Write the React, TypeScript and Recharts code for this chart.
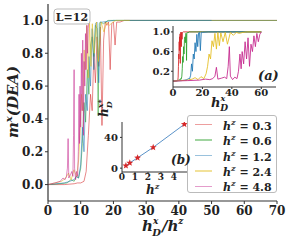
import React from "react";
import { LineChart, Line, XAxis, YAxis } from "recharts";

// h^z values, one series each
const HZ = [0.3, 0.6, 1.2, 2.4, 4.8];
const COLORS = ["#d62728", "#2ca02c", "#1f77b4", "#e3bc1c", "#c4248c"];

// h_D^x and m^x(DEA) (a)
const hd03 = [0, 1.5, 2.4, 2.7, 3.0, 3.3, 3.5, 3.7, 3.9, 4.05, 4.2, 4.35, 4.5, 4.65, 4.8, 4.95, 5.1, 5.25, 5.4, 5.55, 5.7, 5.85, 6.0, 6.15, 6.3, 6.6, 7, 10, 30, 60];
const m03 = [0, 0, 0.005, 0.01, 0.01, 0.02, 0.08, 0.3, 0.55, 0.45, 0.8, 0.62, 0.9, 0.72, 0.96, 0.36, 0.88, 0.99, 0.97, 0.99, 0.7, 0.98, 0.99, 0.85, 0.99, 0.99, 1, 1, 1, 1];

const hd06 = [0, 2, 3.5, 4.2, 4.8, 5.2, 5.6, 6.0, 6.3, 6.6, 6.9, 7.2, 7.5, 7.8, 8.1, 8.4, 8.7, 9.0, 9.2, 9.4, 9.6, 10.2, 11, 20, 60];
const m06 = [0, 0.005, 0.01, 0.03, 0.02, 0.05, 0.04, 0.1, 0.25, 0.5, 0.38, 0.7, 0.55, 0.85, 0.9, 0.78, 0.97, 0.95, 0.42, 0.98, 0.99, 0.98, 1, 1, 1];

const hd12 = [0, 3, 6, 8, 9.5, 10.5, 11.2, 12, 12.6, 13.2, 13.8, 14.4, 15.0, 15.6, 16.2, 16.8, 17.4, 18.0, 18.6, 19.2, 20, 24, 60];
const m12 = [0, 0.005, 0.01, 0.02, 0.03, 0.05, 0.04, 0.12, 0.35, 0.2, 0.55, 0.45, 0.78, 0.6, 0.95, 0.7, 0.98, 0.99, 0.62, 0.99, 0.99, 1, 1];

const hd24 = [0, 5, 10, 13, 15, 17, 19, 21, 22.5, 23.5, 24.5, 25.5, 26.5, 27.5, 28.5, 29.5, 30.5, 31.5, 32.5, 34, 35.5, 37, 39, 41, 43, 45, 47.5, 50, 60];
const m24 = [0, 0.01, 0.02, 0.04, 0.07, 0.03, 0.09, 0.05, 0.15, 0.3, 0.55, 0.45, 0.82, 0.7, 0.97, 0.65, 0.99, 0.72, 0.98, 0.8, 0.99, 0.75, 0.99, 0.93, 0.99, 0.97, 0.99, 1, 1];

const hd48 = [0, 10, 18, 22, 25, 27, 28.5, 29.5, 30.5, 33, 35, 36.5, 37.5, 38.3, 39, 40.5, 42, 43.5, 44.5, 45.5, 46.3, 47, 48, 49, 50, 51, 52, 53, 54, 55, 56, 57, 58, 59, 60];
const m48 = [0, 0.01, 0.02, 0.04, 0.03, 0.05, 0.1, 0.28, 0.04, 0.06, 0.08, 0.05, 0.3, 0.7, 0.1, 0.03, 0.08, 0.05, 0.2, 0.55, 0.25, 0.6, 0.35, 0.8, 0.45, 0.88, 0.3, 0.75, 0.6, 0.92, 0.7, 0.97, 0.8, 0.95, 1.0];

const HD = [hd03, hd06, hd12, hd24, hd48];
const MX = [m03, m06, m12, m24, m48];

// inset (b): h_D^x* against h^z
const starHz = [0.3, 0.6, 1.2, 2.4, 4.8];
const starHd = [3.2, 6.8, 13.5, 27, 57];

const MAIN_X_TICKS = [0, 10, 20, 30, 40, 50, 60, 70];
const MAIN_Y_TICKS = [0, 0.2, 0.4, 0.6, 0.8, 1.0];
const A_X_TICKS = [0, 20, 40, 60];
const A_Y_TICKS = [0.2, 0.6, 1.0];
const B_X_TICKS = [0, 1, 2, 3, 4];
const B_Y_TICKS = [0, 20, 40];

const FONT = "'DejaVu Serif', serif";
const AX = "#333";

const mainData = HZ.map((hz, s) => HD[s].map((h, i) => ({ x: h / hz, m: MX[s][i] })));
const insetData = HZ.map((_, s) => HD[s].map((h, i) => ({ x: h, m: MX[s][i] })));
const starData = starHz.map((h, i) => ({ x: h, y: starHd[i] }));

const tickStyle = (size: number) => ({ fontSize: size, fontWeight: "bold", fill: "#222", fontFamily: FONT });
const fmt1 = (v: number) => v.toFixed(1);
const noLabel = () => "";

const Star = (props: any) => {
  const { cx, cy } = props;
  if (cx == null || cy == null) return null;
  const pts: string[] = [];
  for (let i = 0; i < 10; i++) {
    const r = i % 2 === 0 ? 3.6 : 1.5;
    const a = -Math.PI / 2 + (i * Math.PI) / 5;
    pts.push(`${cx + r * Math.cos(a)},${cy + r * Math.sin(a)}`);
  }
  return <polygon points={pts.join(" ")} fill="#d62728" />;
};

const Legend = () => (
  <div
    style={{
      position: "absolute", left: 187, top: 115, width: 90, height: 78, boxSizing: "border-box",
      background: "#fff", border: "1px solid #bbb", borderRadius: 3, paddingTop: 1, zIndex: 5,
      fontFamily: FONT, fontWeight: "bold", fontSize: 11, color: "#222",
    }}
  >
    {HZ.map((h, i) => (
      <div key={h} style={{ display: "flex", alignItems: "center", height: 15.4 }}>
        <span style={{ display: "inline-block", marginLeft: 7, width: 17, height: 1.5, background: COLORS[i], opacity: 0.45 }} />
        <span style={{ marginLeft: 11, whiteSpace: "nowrap" }}>
          <i>h</i><sup style={{ fontSize: 8, fontStyle: "italic" }}>z</sup> = {h}
        </span>
      </div>
    ))}
  </div>
);

const Labels = () => (
  <svg width={291} height={242} style={{ position: "absolute", left: 0, top: 0, pointerEvents: "none", zIndex: 6 }}
    fontFamily={FONT} fontWeight="bold" fill="#222">
    {/* main y label */}
    <text transform="translate(18,102) rotate(-90)" textAnchor="middle" fontSize={15} fontStyle="italic">
      m<tspan fontSize={10} dy={-6}>x</tspan><tspan dy={6}>(DEA)</tspan>
    </text>
    {/* main x label */}
    <text x={142} y={231} fontSize={15} fontStyle="italic">
      h<tspan fontSize={9} dy={-7}>x</tspan><tspan fontSize={10} dx={-6} dy={12}>D</tspan>
      <tspan dx={1} dy={-5}>/h</tspan><tspan fontSize={9} dy={-7}>z</tspan>
    </text>
    {/* L=12 box */}
    <rect x={54} y={9} width={36} height={15} rx={3} fill="#fff" stroke="#bbb" />
    <text x={72} y={20.5} textAnchor="middle" fontSize={11}>L=12</text>
    {/* inset (a) */}
    <text x={258} y={80} fontSize={13} fontStyle="italic">(a)</text>
    <text x={211} y={107} fontSize={13} fontStyle="italic">
      h<tspan fontSize={8} dy={-6}>x</tspan><tspan fontSize={9} dx={-5} dy={10}>D</tspan>
    </text>
    {/* inset (b) */}
    <text x={171} y={164} fontSize={12} fontStyle="italic">(b)</text>
    <text x={146} y={194} fontSize={12} fontStyle="italic">
      h<tspan fontSize={8} dy={-5}>z</tspan>
    </text>
    <text transform="translate(108,117) rotate(-90)" fontSize={12} fontStyle="italic">
      h<tspan fontSize={8} dy={-5}>x*</tspan><tspan fontSize={8} dx={-9} dy={9}>D</tspan>
    </text>
  </svg>
);

export default function App() {
  return (
    <div style={{ position: "absolute", left: 0, top: 0, width: 291, height: 242, background: "#fff" }}>
      {/* main panel */}
      <div style={{ position: "absolute", left: 0, top: 0 }}>
        <LineChart width={291} height={242} margin={{ top: 4, right: 14, bottom: 0, left: 0 }}>
          <XAxis xAxisId="b" type="number" dataKey="x" domain={[0, 70]} ticks={MAIN_X_TICKS} allowDataOverflow
            height={41} tickSize={3} tickMargin={2} axisLine={{ stroke: AX, strokeWidth: 1.2 }} tickLine={{ stroke: AX }} tick={tickStyle(12)} />
          <XAxis xAxisId="t" orientation="top" type="number" dataKey="x" domain={[0, 70]} ticks={MAIN_X_TICKS} allowDataOverflow
            height={0} tickSize={3} tickFormatter={noLabel} axisLine={{ stroke: AX, strokeWidth: 1.2 }} tickLine={{ stroke: AX }} />
          <YAxis yAxisId="l" type="number" dataKey="m" domain={[-0.1, 1.1]} ticks={MAIN_Y_TICKS} allowDataOverflow
            width={48} tickSize={3} tickMargin={2} tickFormatter={fmt1} axisLine={{ stroke: AX, strokeWidth: 1.2 }} tickLine={{ stroke: AX }} tick={tickStyle(12)} />
          <YAxis yAxisId="r" orientation="right" type="number" dataKey="m" domain={[-0.1, 1.1]} ticks={MAIN_Y_TICKS} allowDataOverflow
            width={0} tickSize={3} tickFormatter={noLabel} axisLine={{ stroke: AX, strokeWidth: 1.2 }} tickLine={{ stroke: AX }} />
          {mainData.map((d, s) => (
            <Line key={HZ[s]} xAxisId="b" yAxisId="l" data={d} dataKey="m" type="linear" stroke={COLORS[s]}
              strokeOpacity={0.55} strokeWidth={1} dot={false} isAnimationActive={false} />
          ))}
        </LineChart>
      </div>

      {/* inset (a) */}
      <div style={{ position: "absolute", left: 140, top: 20 }}>
        <LineChart width={150} height={95} margin={{ top: 6, right: 14, bottom: 0, left: 0 }}>
          <XAxis xAxisId="b" type="number" dataKey="x" domain={[0, 70]} ticks={A_X_TICKS} allowDataOverflow
            height={28} tickSize={2} tickMargin={0} axisLine={{ stroke: AX }} tickLine={{ stroke: AX }} tick={tickStyle(10)} />
          <XAxis xAxisId="t" orientation="top" type="number" dataKey="x" domain={[0, 70]} ticks={A_X_TICKS} allowDataOverflow
            height={0} tickSize={2} tickFormatter={noLabel} axisLine={{ stroke: AX }} tickLine={{ stroke: AX }} />
          <YAxis yAxisId="l" type="number" dataKey="m" domain={[-0.12, 1.12]} ticks={A_Y_TICKS} allowDataOverflow
            width={33} tickSize={2} tickMargin={1} tickFormatter={fmt1} axisLine={{ stroke: AX }} tickLine={{ stroke: AX }} tick={tickStyle(10)} />
          <YAxis yAxisId="r" orientation="right" type="number" dataKey="m" domain={[-0.12, 1.12]} ticks={A_Y_TICKS} allowDataOverflow
            width={0} tickSize={2} tickFormatter={noLabel} axisLine={{ stroke: AX }} tickLine={{ stroke: AX }} />
          {insetData.map((d, s) => (
            <Line key={HZ[s]} xAxisId="b" yAxisId="l" data={d} dataKey="m" type="linear" stroke={COLORS[s]}
              strokeOpacity={0.85} strokeWidth={1} dot={false} isAnimationActive={false} />
          ))}
        </LineChart>
      </div>

      {/* inset (b) */}
      <div style={{ position: "absolute", left: 90, top: 116 }}>
        <LineChart width={110} height={70} margin={{ top: 6, right: 12, bottom: 0, left: 0 }}>
          <XAxis xAxisId="b" type="number" dataKey="x" domain={[0, 5.08]} ticks={B_X_TICKS} allowDataOverflow
            height={14} tickSize={2} tickMargin={0} axisLine={{ stroke: AX }} tickLine={{ stroke: AX }} tick={tickStyle(9)} />
          <XAxis xAxisId="t" orientation="top" type="number" dataKey="x" domain={[0, 5.08]} ticks={B_X_TICKS} allowDataOverflow
            height={0} tickSize={2} tickFormatter={noLabel} axisLine={{ stroke: AX }} tickLine={{ stroke: AX }} />
          <YAxis yAxisId="l" type="number" dataKey="y" domain={[-5, 60]} ticks={B_Y_TICKS} allowDataOverflow
            width={32} tickSize={2} tickMargin={2} axisLine={{ stroke: AX }} tickLine={{ stroke: AX }} tick={tickStyle(10)} />
          <YAxis yAxisId="r" orientation="right" type="number" dataKey="y" domain={[-5, 60]} ticks={B_Y_TICKS} allowDataOverflow
            width={0} tickSize={2} tickFormatter={noLabel} axisLine={{ stroke: AX }} tickLine={{ stroke: AX }} />
          <Line xAxisId="b" yAxisId="l" data={starData} dataKey="y" type="linear" stroke="#5b93c9"
            strokeWidth={1} dot={<Star />} isAnimationActive={false} />
        </LineChart>
      </div>

      <Legend />
      <Labels />
    </div>
  );
}
